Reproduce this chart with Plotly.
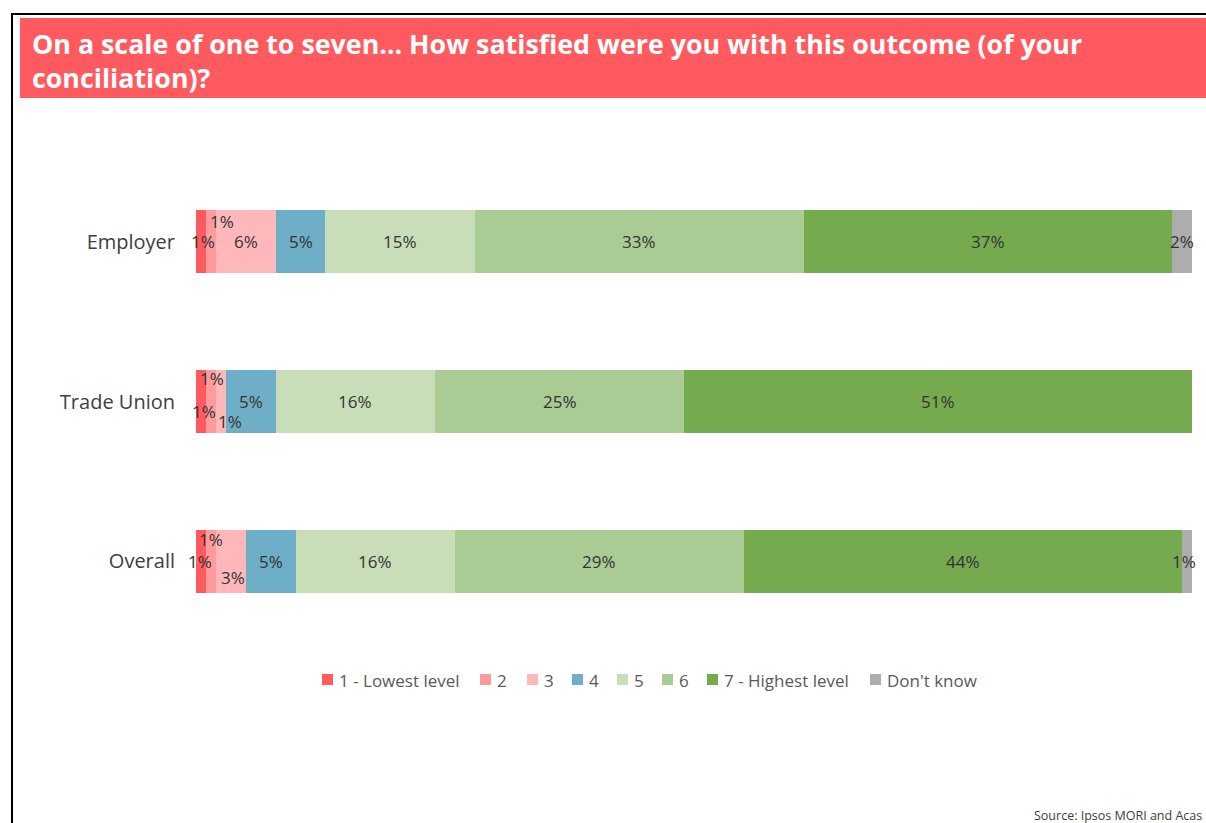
import plotly.graph_objects as go

# ---- data ----
groups = ["Employer", "Trade Union", "Overall"]
levels = ["1 - Lowest level", "2", "3", "4", "5", "6", "7 - Highest level", "Don't know"]
employer = [1, 1, 6, 5, 15, 33, 37, 2]
trade_union = [1, 1, 1, 5, 16, 25, 51, 0]
overall = [1, 1, 3, 5, 16, 29, 44, 1]
rows = [employer, trade_union, overall]

title_lines = [
    "On a scale of one to seven… How satisfied were you with this outcome (of your",
    "conciliation)?",
]
source_text = "Source: Ipsos MORI and Acas"

# ---- style ----
colors = ["#FF5A5F", "#FF9B9C", "#FFB8BA", "#6EAEC6", "#C8DEB8", "#AACB93", "#76AA4F", "#ADADAD"]
W, H = 1206, 823
ML, MR, MT, MB = 196, 14, 162, 182
FONT = "Open Sans"

# small-segment label nudges in px: (group, level) -> (dx, dy)
nudges = {
    (0, 0): (2, 0), (0, 1): (11, -20),
    (1, 0): (3, 10), (1, 1): (1, -23), (1, 2): (9, 20),
    (2, 0): (-1, 0), (2, 1): (0, -22), (2, 2): (2, 16), (2, 7): (-3, 0),
}

# legend marker left edges in px
legend_x = [322, 480, 527, 572, 617, 662, 707, 870]
legend_y = 680

PW = W - ML - MR
PH = H - MT - MB


def px_x(x):
    return (x - ML) / PW


def px_y(y):
    return 1 - (y - MT) / PH


fig = go.Figure()
for j, lev in enumerate(levels):
    fig.add_trace(go.Bar(
        y=groups,
        x=[r[j] for r in rows],
        orientation="h",
        name=lev,
        marker=dict(color=colors[j], line=dict(width=0)),
        showlegend=False,
        hoverinfo="x+name",
    ))

annotations = []
# value labels at segment midpoints
for i, (g, r) in enumerate(zip(groups, rows)):
    cum = 0
    for j, v in enumerate(r):
        if v > 0:
            dx, dy = nudges.get((i, j), (0, 0))
            annotations.append(dict(
                x=cum + v / 2, y=g, xref="x", yref="y",
                text=f"{v}%", showarrow=False,
                xshift=dx, yshift=-dy,
                font=dict(family=FONT, size=17, color="#333333"),
            ))
        cum += v

shapes = []
# outer frame
shapes.append(dict(type="rect", xref="paper", yref="paper",
                   x0=px_x(12), x1=px_x(1230), y0=px_y(14), y1=px_y(850),
                   line=dict(color="black", width=2), fillcolor="rgba(0,0,0,0)", layer="below"))
# title band
shapes.append(dict(type="rect", xref="paper", yref="paper",
                   x0=px_x(20), x1=px_x(1230), y0=px_y(18), y1=px_y(98),
                   line=dict(width=0), fillcolor="#FF5A5F", layer="below"))
for k, (line, yb) in enumerate(zip(title_lines, [43, 77])):
    annotations.append(dict(
        x=px_x(30), y=px_y(yb), xref="paper", yref="paper",
        xanchor="left", yanchor="middle", text=f"<b>{line}</b>", showarrow=False,
        font=dict(family=FONT, size=26.8, color="white"),
    ))

# legend
for j, lev in enumerate(levels):
    x0 = legend_x[j]
    shapes.append(dict(type="rect", xref="paper", yref="paper",
                       x0=px_x(x0), x1=px_x(x0 + 11), y0=px_y(legend_y - 6), y1=px_y(legend_y + 5),
                       line=dict(width=0), fillcolor=colors[j]))
    annotations.append(dict(
        x=px_x(x0 + 15), y=px_y(legend_y), xref="paper", yref="paper",
        xanchor="left", yanchor="middle", text=lev, showarrow=False,
        font=dict(family=FONT, size=17, color="#595959"),
    ))

annotations.append(dict(
    x=px_x(1204), y=px_y(815), xref="paper", yref="paper",
    xanchor="right", yanchor="middle", text=source_text, showarrow=False,
    font=dict(family=FONT, size=12.5, color="#404040"),
))

fig.update_layout(
    width=W, height=H,
    margin=dict(l=ML, r=MR, t=MT, b=MB, pad=0),
    barmode="stack",
    bargap=0.605,
    plot_bgcolor="white",
    paper_bgcolor="white",
    showlegend=False,
    xaxis=dict(range=[0, 100], visible=False, fixedrange=True),
    yaxis=dict(
        autorange="reversed", showgrid=False, zeroline=False, showline=False,
        ticks="", ticklabelstandoff=20,
        tickfont=dict(family=FONT, size=20, color="#404040"),
    ),
    shapes=shapes,
    annotations=annotations,
)

fig.write_html("out.html")
